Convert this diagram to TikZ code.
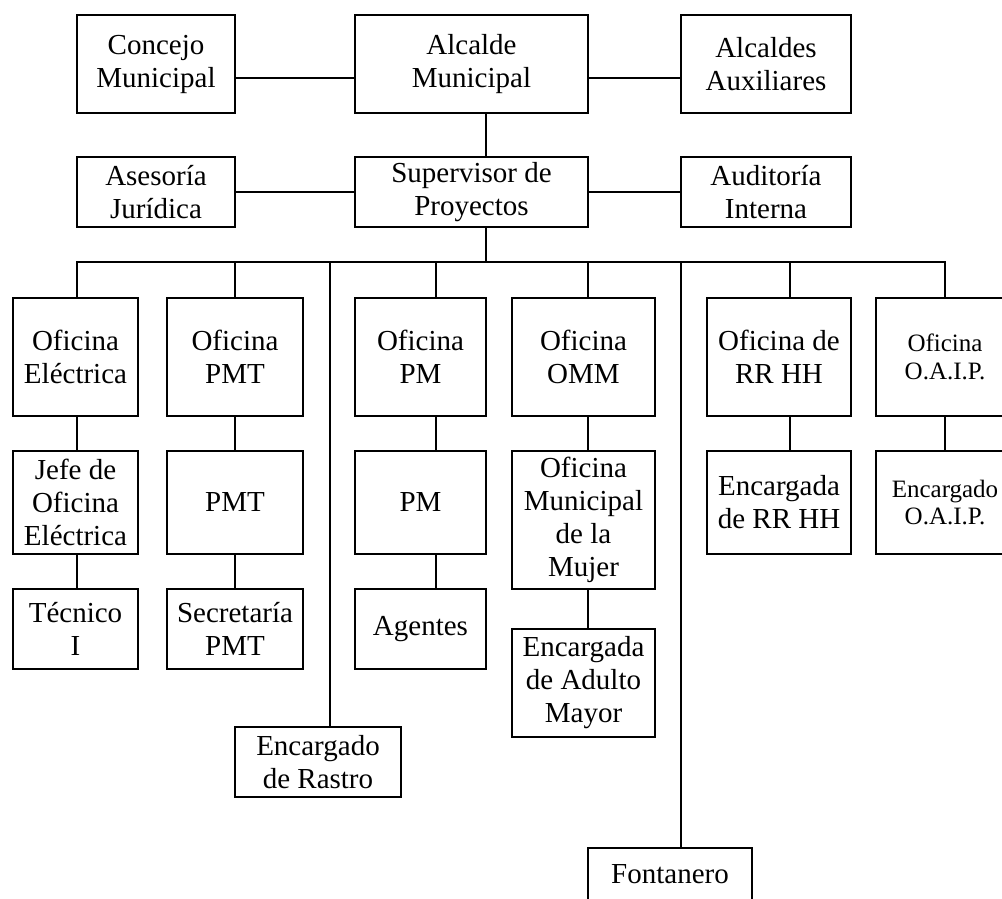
\documentclass[tikz,border=0pt]{standalone}
\usepackage{fontspec}
\setmainfont{Liberation Serif}
\tikzset{
  cargo/.style={draw, line width=2pt, inner sep=0pt, align=center,
    font=\fontsize{29}{33}\selectfont},
  cargochico/.style={cargo, font=\fontsize{25}{28}\selectfont},
  linea/.style={line width=2pt, line cap=rect}
}
\begin{document}
\begin{tikzpicture}[x=1pt,y=-1pt]
  \useasboundingbox (0,0) rectangle (1002,899);
  % dirección
  \node[cargo, minimum width=158pt, minimum height=98pt] (concejo) at (156,64) {Concejo\\Municipal};
  \node[cargo, minimum width=233pt, minimum height=98pt] (alcalde) at (471.5,64) {Alcalde\\Municipal};
  \node[cargo, minimum width=170pt, minimum height=98pt] (aux) at (766,64) {Alcaldes\\Auxiliares};
  \node[cargo, minimum width=158pt, minimum height=70pt] (asesoria) at (156,192) {Asesoría\\Jurídica};
  \node[cargo, minimum width=233pt, minimum height=70pt] (supervisor) at (471.5,192) {Supervisor de\\Proyectos};
  \node[cargo, minimum width=170pt, minimum height=70pt] (auditoria) at (766,192) {Auditoría\\Interna};
  % oficinas
  \foreach \n/\cx/\w/\t in {
    electrica/75.5/125/{Oficina\\Eléctrica}, ofpmt/235/136/{Oficina\\PMT},
    ofpm/420.5/131/{Oficina\\PM}, omm/583.5/143/{Oficina\\OMM},
    rrhh/779/144/{Oficina de\\RR HH}}
    \node[cargo, minimum width=\w pt, minimum height=118pt] (\n) at (\cx,357) {\t};
  \node[cargochico, minimum width=138pt, minimum height=118pt] (oaip) at (945,357) {Oficina\\O.A.I.P.};
  % encargados
  \foreach \n/\cx/\w/\t in {
    jefe/75.5/125/{Jefe de\\Oficina\\Eléctrica}, pmt/235/136/{PMT},
    pm/420.5/131/{PM}, encrrhh/779/144/{Encargada\\de RR HH}}
    \node[cargo, minimum width=\w pt, minimum height=103pt] (\n) at (\cx,502.5) {\t};
  \node[cargochico, minimum width=138pt, minimum height=103pt] (encoaip) at (945,502.5) {Encargado\\O.A.I.P.};
  \node[cargo, minimum width=143pt, minimum height=138pt] (mujer) at (583.5,520) {Oficina\\Municipal\\de la\\Mujer};
  \foreach \n/\cx/\w/\t in {
    tecnico/75.5/125/{Técnico\\I}, secretaria/235/136/{Secretaría\\PMT},
    agentes/420.5/131/{Agentes}}
    \node[cargo, minimum width=\w pt, minimum height=80pt] (\n) at (\cx,629) {\t};
  \node[cargo, minimum width=143pt, minimum height=108pt] (adulto) at (583.5,683) {Encargada\\de Adulto\\Mayor};
  \node[cargo, minimum width=166pt, minimum height=70pt] (rastro) at (318,762) {Encargado\\de Rastro};
  \node[cargo, minimum width=164pt, minimum height=52pt] (fontanero) at (670,874) {Fontanero};
  % lineas
  \draw[linea] (concejo.east |- 0,78) -- (alcalde.west |- 0,78);
  \draw[linea] (alcalde.east |- 0,78) -- (aux.west |- 0,78);
  \draw[linea] (alcalde.south -| 486,0) -- (supervisor.north -| 486,0);
  \draw[linea] (asesoria) -- (supervisor) -- (auditoria);
  \draw[linea] (supervisor.south -| 486,0) -- (486,262);
  \draw[linea] (77,262) -- (945,262);
  \foreach \n/\x in {electrica/77, ofpmt/235, rastro/330, ofpm/436,
    omm/588, fontanero/681, rrhh/790, oaip/945}
    \draw[linea] (\x,262) -- (\n.north -| \x,0);
  \foreach \a/\b/\x in {electrica/jefe/77, jefe/tecnico/77, ofpmt/pmt/235,
    pmt/secretaria/235, ofpm/pm/436, pm/agentes/436, omm/mujer/588,
    mujer/adulto/588, rrhh/encrrhh/790, oaip/encoaip/945}
    \draw[linea] (\a.south -| \x,0) -- (\b.north -| \x,0);
\end{tikzpicture}
\end{document}
